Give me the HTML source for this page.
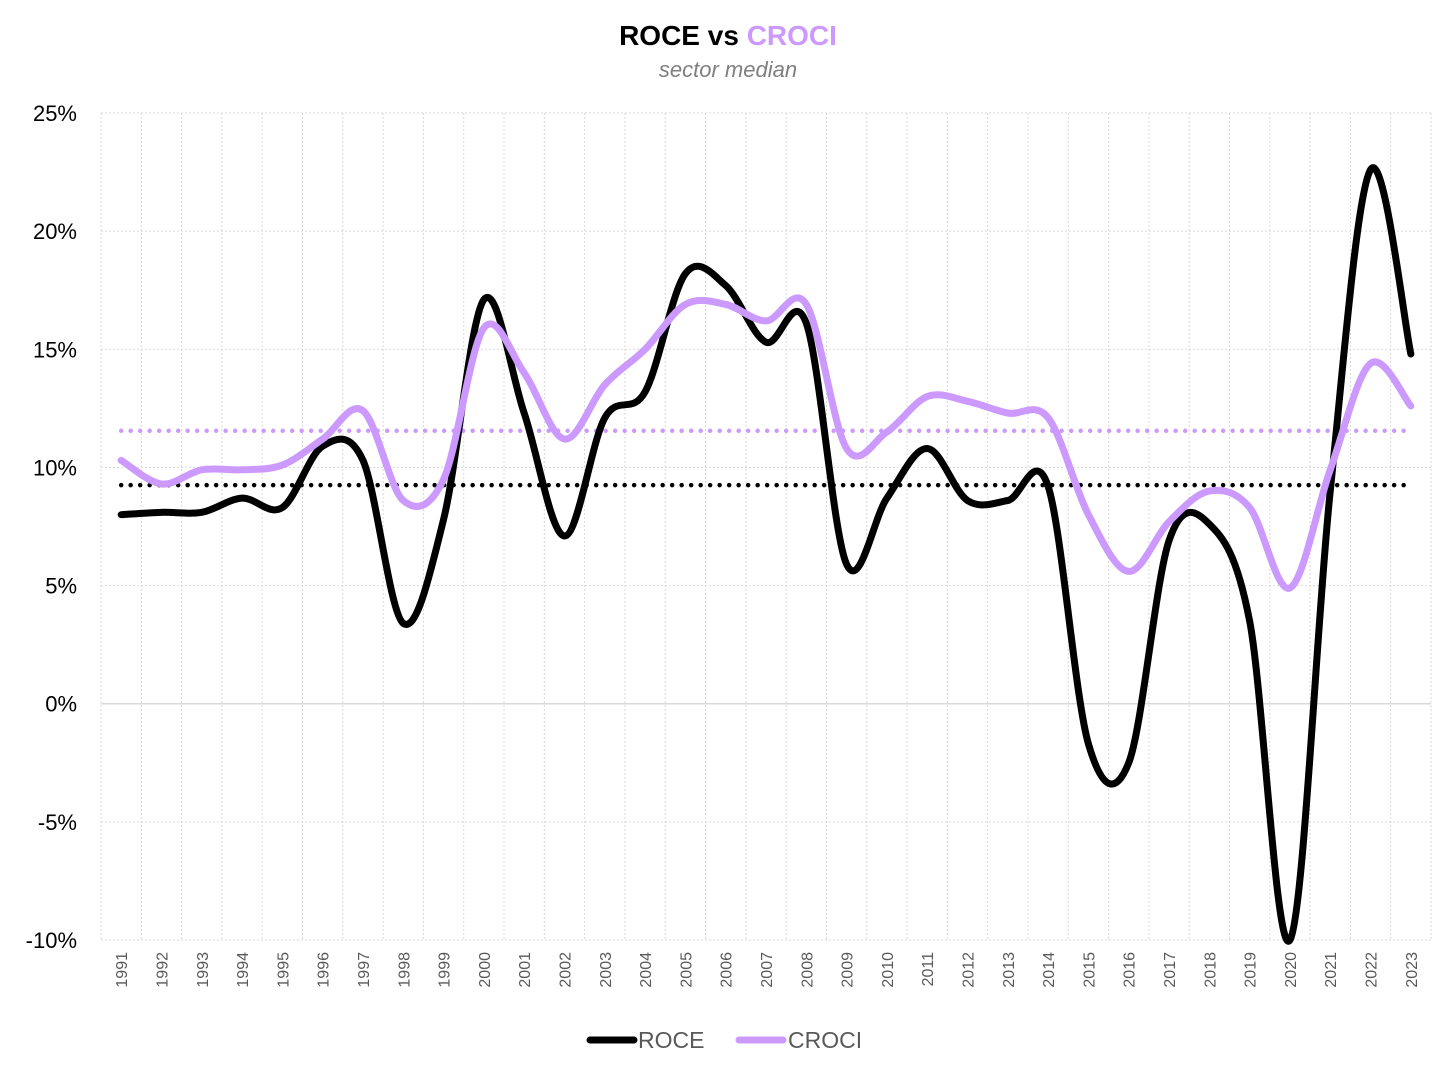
<!DOCTYPE html>
<html><head><meta charset="utf-8">
<style>
body{margin:0;background:#fff;}
svg{display:block;font-family:"Liberation Sans",Arial,sans-serif;}
</style></head>
<body>
<svg id="chart" width="1456" height="1075" viewBox="0 0 1456 1075">
  <text x="728" y="45" text-anchor="middle" font-size="28" font-weight="bold"><tspan fill="#000">ROCE vs </tspan><tspan fill="#cc99ff">CROCI</tspan></text>
  <text x="728" y="77" text-anchor="middle" font-size="22" font-style="italic" fill="#7f7f7f">sector median</text>
  <g id="grid"></g>
  <g id="yaxis"></g>
  <g id="xaxis"></g>
  <g id="series"></g>
  <g>
    <g>
      <line x1="590" y1="1040" x2="634" y2="1040" stroke="#000" stroke-width="7" stroke-linecap="round"/>
      <text x="638" y="1048" font-size="23" fill="#595959">ROCE</text>
    </g>
    <g>
      <line x1="739" y1="1040" x2="783" y2="1040" stroke="#cc99ff" stroke-width="7" stroke-linecap="round"/>
      <text x="788" y="1048" font-size="23" fill="#595959">CROCI</text>
    </g>
  </g>
</svg>
<script>
const years = [1991,1992,1993,1994,1995,1996,1997,1998,1999,2000,2001,2002,2003,2004,2005,2006,2007,2008,2009,2010,2011,2012,2013,2014,2015,2016,2017,2018,2019,2020,2021,2022,2023];
const roce = [8.0,8.1,8.1,8.7,8.3,10.9,10.3,3.4,7.8,17.1,12.3,7.1,12.1,13.2,18.2,17.7,15.3,16.1,5.9,8.7,10.8,8.6,8.6,9.2,-1.7,-2.5,6.9,7.6,3.5,-10.0,9.0,22.6,14.8];
const croci = [10.3,9.3,9.9,9.9,10.1,11.2,12.4,8.6,9.5,15.9,14.0,11.2,13.5,15.0,16.9,16.9,16.2,16.9,10.8,11.5,13.0,12.8,12.3,12.1,8.0,5.6,7.7,9.0,8.3,4.9,9.9,14.4,12.6];
const roceAvg = 9.25;
const crociAvg = 11.55;
const yTicks = [25,20,15,10,5,0,-5,-10];

const NS="http://www.w3.org/2000/svg";
const L=101,R=1431,T=113,B=940,yMax=25,yMin=-10;
const step=(R-L)/years.length;
function xs(i){return L+step*(i+0.5);}
function ys(v){return T+(yMax-v)/(yMax-yMin)*(B-T);}
function mk(tag,attrs,parent){const e=document.createElementNS(NS,tag);for(const k in attrs)e.setAttribute(k,attrs[k]);parent.appendChild(e);return e;}
const grid=document.getElementById('grid'),ya=document.getElementById('yaxis'),xa=document.getElementById('xaxis'),ser=document.getElementById('series');
yTicks.forEach(t=>{
  const y=ys(t);
  const gl=mk('line',{x1:L,x2:R,y1:y,y2:y,stroke:t===0?'#d9d9d9':'#d9d9d9','stroke-width':t===0?1.5:1,'stroke-dasharray':t===0?'none':'2 2'},grid);
  
  
  const tx=mk('text',{x:77,y:y+8,'text-anchor':'end','font-size':22,fill:'#000'},ya);
  tx.textContent=t+'%';
  
  
});
for(let i=0;i<=years.length;i++){
  const x=L+step*i;
  const vl=mk('line',{x1:x,x2:x,y1:T,y2:B,stroke:'#d9d9d9','stroke-width':1,'stroke-dasharray':'2 2'},grid);
  
  
}
years.forEach((yr,i)=>{
  const x=xs(i);
  const tx=mk('text',{x:0,y:0,'text-anchor':'end','font-size':16,fill:'#595959',transform:`translate(${x+6},952) rotate(-90)`},xa);
  tx.textContent=yr;
  
  
});
function smooth(vals){
  const p=vals.map((v,i)=>[xs(i),ys(v)]);
  let d=`M${p[0][0]},${p[0][1]}`;
  for(let i=0;i<p.length-1;i++){
    const p0=p[i-1]||p[i],p1=p[i],p2=p[i+1],p3=p[i+2]||p2;
    const c1=[p1[0]+(p2[0]-p0[0])/6,p1[1]+(p2[1]-p0[1])/6];
    const c2=[p2[0]-(p3[0]-p1[0])/6,p2[1]-(p3[1]-p1[1])/6];
    d+=` C${c1[0]},${c1[1]} ${c2[0]},${c2[1]} ${p2[0]},${p2[1]}`;
  }
  return d;
}
const a1=mk('line',{x1:xs(0),x2:xs(years.length-1),y1:ys(roceAvg),y2:ys(roceAvg),stroke:'#000','stroke-width':4.5,'stroke-linecap':'round','stroke-dasharray':'0 9.5'},ser);


const a2=mk('line',{x1:xs(0),x2:xs(years.length-1),y1:ys(crociAvg),y2:ys(crociAvg),stroke:'#cc99ff','stroke-width':4.5,'stroke-linecap':'round','stroke-dasharray':'0 9.5'},ser);


const l1=mk('path',{d:smooth(roce),fill:'none',stroke:'#000','stroke-width':7,'stroke-linecap':'round','stroke-linejoin':'round'},ser);


const l2=mk('path',{d:smooth(croci),fill:'none',stroke:'#cc99ff','stroke-width':7,'stroke-linecap':'round','stroke-linejoin':'round'},ser);


</script>
</body></html>
